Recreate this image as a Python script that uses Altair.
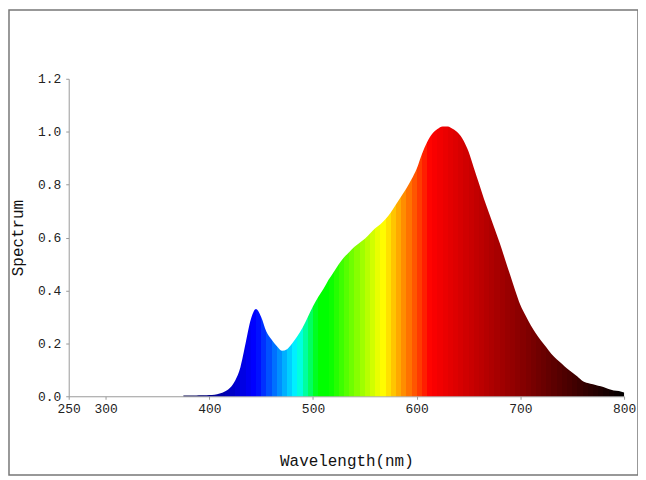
import altair as alt
import pandas as pd

# wavelengths (nm) and relative spectrum
wavelength = list(range(375, 805, 5))
spectrum = [
    0.003, 0.003, 0.003, 0.004, 0.004, 0.005, 0.006, 0.010, 0.018, 0.032,   # 375-420
    0.060, 0.110, 0.200, 0.290, 0.330, 0.300, 0.245, 0.215, 0.190, 0.172,   # 425-470
    0.178, 0.200, 0.228, 0.260, 0.300, 0.340, 0.375, 0.405, 0.440, 0.470,   # 475-520
    0.500, 0.525, 0.545, 0.565, 0.580, 0.595, 0.615, 0.635, 0.650, 0.670,   # 525-570
    0.695, 0.725, 0.755, 0.785, 0.820, 0.860, 0.915, 0.960, 0.992, 1.010,   # 575-620
    1.020, 1.020, 1.010, 0.995, 0.968, 0.925, 0.865, 0.805, 0.745, 0.690,   # 625-670
    0.635, 0.580, 0.520, 0.460, 0.400, 0.345, 0.305, 0.268, 0.237, 0.210,   # 675-720
    0.185, 0.160, 0.140, 0.123, 0.105, 0.090, 0.075, 0.058, 0.050, 0.045,   # 725-770
    0.040, 0.035, 0.027, 0.022, 0.020, 0.014,                               # 775-800
]
x_ticks = [264.4, 300, 400, 500, 600, 700, 800]
y_ticks = [0.0, 0.2, 0.4, 0.6, 0.8, 1.0, 1.2]

df = pd.DataFrame({"wavelength": wavelength, "spectrum": spectrum})


def wl_color(l):
    if l < 442:
        r, g, b = 0.0, 0.0, min(1.0, max(0.3, 0.3 + 0.7 * (l - 380) / 62))
    elif l < 485:
        r, g, b = 0.0, (l - 445) / 40, 1.0
    elif l < 505:
        r, g, b = 0.0, 1.0, (505 - l) / 20
    elif l < 567:
        r, g, b = max(0.0, (l - 515) / 52), 1.0, 0.0
    elif l < 613:
        r, g, b = 1.0, (613 - l) / 46, 0.0
    else:
        r, g, b = max(0.0, (800 - l) / 187), 0.0, 0.0
    return "#%02x%02x%02x" % tuple(int(round(255 * min(1, max(0, c)))) for c in (r, g, b))


lo, hi = wavelength[0], wavelength[-1]
stops = []
for a in wavelength[:-1]:
    c = wl_color(a + 2.5)
    stops.append(alt.GradientStop(color=c, offset=(a - lo) / (hi - lo)))
    stops.append(alt.GradientStop(color=c, offset=(a + 5 - lo) / (hi - lo)))

grad = alt.LinearGradient(gradient="linear", stops=stops, x1=0, x2=1, y1=0, y2=0)

FONT = "Liberation Mono"

area = alt.Chart(df).mark_area(color=grad, interpolate="monotone").encode(
    x=alt.X(
        "wavelength:Q",
        scale=alt.Scale(domain=[264.4, 800], nice=False, zero=False),
        axis=alt.Axis(
            values=x_ticks,
            labelExpr="datum.value < 270 ? '250' : format(datum.value, 'd')",
            title="Wavelength(nm)",
            titlePadding=38,
            labelPadding=3,
            tickSize=3,
            labelFlush=False,
            labelOverlap=False,
        ),
    ),
    y=alt.Y(
        "spectrum:Q",
        scale=alt.Scale(domain=[0, 1.2], nice=False),
        axis=alt.Axis(
            values=y_ticks,
            format=".1f",
            title="Spectrum",
            titlePadding=12,
            labelPadding=5,
            tickSize=3,
            labelFlush=False,
            labelOverlap=False,
        ),
    ),
)

frame = alt.Chart(pd.DataFrame({"k": [0]})).mark_rect(
    filled=False, stroke="#777777", strokeWidth=1.5
).encode(
    x=alt.value(-60),
    x2=alt.value(572),
    y=alt.value(-69),
    y2=alt.value(398),
)

chart = (
    alt.layer(area, frame)
    .properties(
        width=558,
        height=319,
        autosize=alt.AutoSizeParams(type="none"),
        padding={"left": 61, "top": 70, "right": 14, "bottom": 80},
        background="white",
    )
    .configure_view(stroke=None)
    .configure_axis(
        grid=False,
        domainColor="#999999",
        tickColor="#999999",
        labelFont=FONT,
        labelFontSize=13,
        labelColor="#222222",
        titleFont=FONT,
        titleFontSize=16,
        titleFontWeight="normal",
        titleColor="#111111",
    )
)

chart.save("out.html", embed_options={"renderer": "svg", "actions": False})
